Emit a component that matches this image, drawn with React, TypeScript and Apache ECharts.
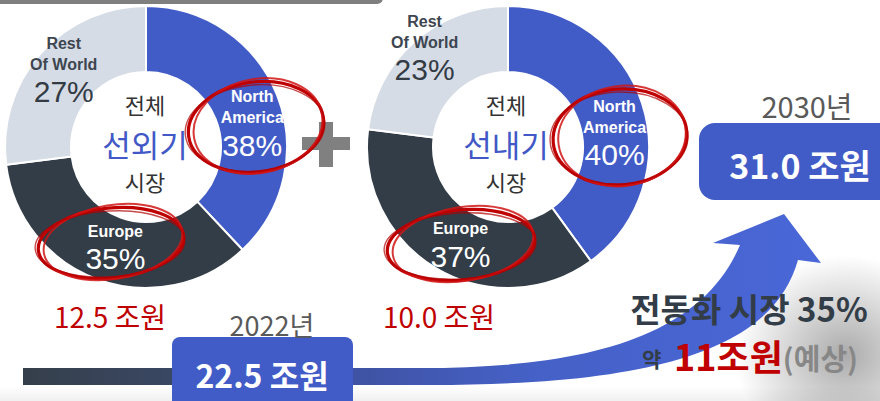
import React, { useEffect, useRef } from 'react';
import * as echarts from 'echarts';

// ---- data ----
const regions = ['North America', 'Europe', 'Rest Of World'];
const regionLabelLines = [['North', 'America'], ['Europe'], ['Rest', 'Of World']];
const outboardShare = [38, 35, 27];
const inboardShare = [40, 37, 23];
const marketTitles = ['선외기', '선내기'];
const marketTotals = ['12.5 조원', '10.0 조원'];
const year2022 = '2022년';
const total2022 = '22.5 조원';
const year2030 = '2030년';
const total2030 = '31.0 조원';
const electricLine = '전동화 시장 35%';
const electricValue = '11조원';

const regionColors = ['#425CC7', '#333D48', '#D6DCE6'];
const KR = 'Noto Sans CJK KR';
const LAT = 'Liberation Sans';

const ARROW_D =
  'M 23 368 L 420 368 C 580 368, 700 340, 740 245 L 713 243 L 784 214 L 821 263 L 798 260 C 775 340, 680 385, 430 385 L 23 385 Z';

let registered = false;
function ensureShapes() {
  if (registered) return;
  echarts.graphic.registerShape('growArrow', echarts.graphic.extendPath(ARROW_D, {}) as any);
  registered = true;
}

function pieSeries(values: number[], center: [number, number], offsets: number[][]) {
  return {
    type: 'pie',
    radius: [75, 141],
    center,
    startAngle: 90,
    clockwise: true,
    silent: true,
    avoidLabelOverlap: false,
    itemStyle: { borderColor: '#ffffff', borderWidth: 2 },
    emphasis: { disabled: true },
    labelLine: { show: false },
    label: {
      show: true,
      position: 'inside',
      formatter: (p: any) => {
        const k = p.dataIndex === 2 ? 'd' : 'w';
        return (
          regionLabelLines[p.dataIndex].map((s) => `{n${k}|${s}}`).join('\n') +
          `\n{p${k}|${p.value}%}`
        );
      },
      rich: {
        nw: { color: '#ffffff', fontSize: 16, fontWeight: 'bold', fontFamily: LAT, lineHeight: 21 },
        pw: { color: '#ffffff', fontSize: 30, fontFamily: LAT, lineHeight: 34 },
        nd: { color: '#3D4650', fontSize: 16, fontWeight: 'bold', fontFamily: LAT, lineHeight: 21 },
        pd: { color: '#333B44', fontSize: 30, fontFamily: LAT, lineHeight: 34 },
      },
    },
    labelLayout: (p: any) => ({ dx: offsets[p.dataIndex][0], dy: offsets[p.dataIndex][1] }),
    data: values.map((v, i) => ({ value: v, name: regions[i], itemStyle: { color: regionColors[i] } })),
  };
}

function text(x: number, y: number, t: string, size: number, fill: string, weight: any = 'normal', z = 5) {
  return {
    type: 'text',
    x,
    y,
    z,
    style: { text: t, fill, fontSize: size, fontFamily: KR, fontWeight: weight, align: 'center', verticalAlign: 'middle' },
  };
}

function sketchEllipse(cx: number, cy: number, rx: number, ry: number, rot: number) {
  return [
    {
      type: 'ellipse',
      x: cx,
      y: cy,
      rotation: rot,
      z: 20,
      shape: { cx: 0, cy: 0, rx, ry },
      style: { fill: 'none', stroke: '#C00000', lineWidth: 3.2 },
    },
    {
      type: 'ellipse',
      x: cx + 2,
      y: cy - 1,
      rotation: rot + 0.06,
      z: 20,
      shape: { cx: 0, cy: 0, rx: rx - 3, ry: ry + 2 },
      style: { fill: 'none', stroke: '#D01515', lineWidth: 2, opacity: 0.85 },
    },
    {
      type: 'ellipse',
      x: cx - 1,
      y: cy + 1,
      rotation: rot - 0.04,
      z: 20,
      shape: { cx: 0, cy: 0, rx: rx + 2, ry: ry - 2 },
      style: { fill: 'none', stroke: '#B00000', lineWidth: 1.4, opacity: 0.7 },
    },
  ];
}

export default function App() {
  const ref = useRef<HTMLDivElement>(null);
  useEffect(() => {
    ensureShapes();
    const chart = echarts.init(ref.current!, null, { renderer: 'svg' });
    const option: any = {
      animation: false,
      backgroundColor: '#ffffff',
      series: [
        pieSeries(outboardShare, [146, 147], [[3, 18], [7, -3], [1, -3]]),
        pieSeries(inboardShare, [508, 147], [[1, 21], [9, 3], [-10, -15]]),
      ],
      graphic: [
        // soft shadow bottom right
        {
          type: 'ellipse',
          z: 0,
          shape: { cx: 845, cy: 355, rx: 110, ry: 100 },
          style: {
            fill: {
              type: 'radial', x: 0.5, y: 0.5, r: 0.5,
              colorStops: [
                { offset: 0, color: 'rgba(0,0,0,0.33)' },
                { offset: 0.55, color: 'rgba(0,0,0,0.15)' },
                { offset: 1, color: 'rgba(0,0,0,0)' },
              ],
            },
          },
        },
        {
          type: 'rect',
          z: 0,
          shape: { x: 0, y: 386, width: 880, height: 15 },
          style: {
            fill: {
              type: 'linear', x: 0, y: 0, x2: 0, y2: 1,
              colorStops: [
                { offset: 0, color: 'rgba(0,0,0,0)' },
                { offset: 1, color: 'rgba(0,0,0,0.06)' },
              ],
            },
          },
        },
        // top bar
        { type: 'rect', z: 1, shape: { x: -10, y: -10, width: 393, height: 14, r: [0, 0, 6, 0] }, style: { fill: '#7F7F7F' } },
        // growth arrow
        {
          type: 'growArrow',
          x: 0,
          y: 0,
          z: 1,
          style: {
            fill: {
              type: 'linear', x: 0, y: 0, x2: 1, y2: 0,
              colorStops: [
                { offset: 0, color: '#353F4B' },
                { offset: 0.18, color: '#3A4762' },
                { offset: 0.41, color: '#3F52A2' },
                { offset: 0.62, color: '#4560C5' },
                { offset: 1, color: '#4A67D8' },
              ],
            },
          },
        },
        // plus sign
        { type: 'rect', z: 1, shape: { x: 302, y: 137, width: 48, height: 13 }, style: { fill: '#808080' } },
        { type: 'rect', z: 1, shape: { x: 319, y: 122, width: 14, height: 45 }, style: { fill: '#808080' } },
        // boxes
        { type: 'rect', z: 3, shape: { x: 172, y: 337, width: 181, height: 80, r: 8 }, style: { fill: '#425CC7' } },
        { type: 'rect', z: 3, shape: { x: 699, y: 123, width: 200, height: 77, r: 16 }, style: { fill: '#425CC7' } },
        // donut centres
        text(145, 104, '전체', 22, '#333333'),
        text(145, 143, marketTitles[0], 31, '#4158C6'),
        text(145, 181, '시장', 22, '#333333'),
        text(506, 104, '전체', 22, '#333333'),
        text(506, 143, marketTitles[1], 31, '#4158C6'),
        text(506, 181, '시장', 22, '#333333'),
        // totals
        text(110, 316, marketTotals[0], 28, '#C00000'),
        text(439, 316, marketTotals[1], 28, '#C00000'),
        text(272, 324, year2022, 27, '#595959'),
        text(262, 374, total2022, 32, '#ffffff', 'bold'),
        text(807, 105, year2030, 29, '#595959'),
        text(800, 164, total2030, 34, '#ffffff', 'bold'),
        text(749, 308, electricLine, 33, '#333D48', 'bold'),
        {
          type: 'text',
          x: 750,
          y: 355,
          z: 5,
          style: {
            text: `{a|약 }{b|${electricValue}}{c|(예상)}`,
            align: 'center',
            verticalAlign: 'middle',
            rich: {
              a: { fill: '#333D48', fontSize: 21, fontWeight: 'bold', fontFamily: KR, padding: [6, 8, 0, 0] },
              b: { fill: '#C00000', fontSize: 36, fontWeight: 'bold', fontFamily: KR },
              c: { fill: '#878787', fontSize: 29, fontWeight: 'bold', fontFamily: KR, padding: [4, 0, 0, 0] },
            },
          },
        },
        // red hand-drawn circles
        ...sketchEllipse(256, 127, 68, 45, 0.14),
        ...sketchEllipse(111, 243, 73, 35, 0.1),
        ...sketchEllipse(620, 137, 67, 48, 0.08),
        ...sketchEllipse(461, 245, 74, 35, 0.1),
      ],
    };
    chart.setOption(option);
    return () => chart.dispose();
  }, []);
  return <div ref={ref} style={{ position: 'fixed', left: 0, top: 0, width: 880, height: 401 }} />;
}
